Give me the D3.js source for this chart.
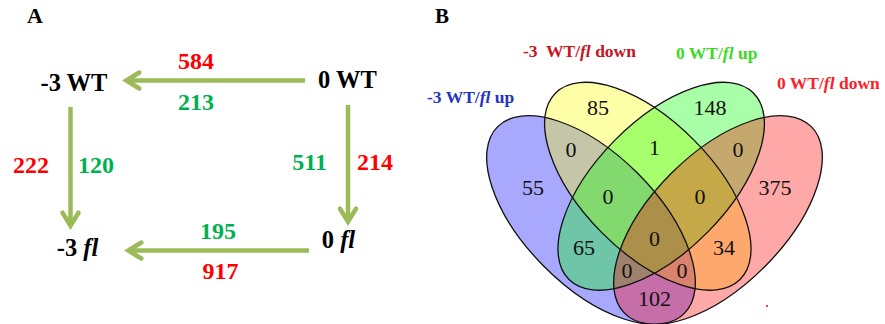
<!DOCTYPE html>
<html>
<head>
<meta charset="utf-8">
<script src="https://cdn.jsdelivr.net/npm/d3@7"></script>
<style>
  body { margin: 0; background: #fff; }
  svg { display: block; font-family: 'Liberation Serif', 'Times New Roman', serif; }
</style>
</head>
<body>
<svg id="chart" width="885" height="324"></svg>
<script>
// panel A: gene counts between samples
var nodeNames = ['-3 WT', '0 WT', '-3 fl', '0 fl']
var edgeFrom = ['0 WT', '-3 WT', '0 WT', '0 fl']
var edgeTo = ['-3 WT', '-3 fl', '0 fl', '-3 fl']
var redCounts = [584, 222, 214, 917]
var greenCounts = [213, 120, 511, 195]

// panel B: four set venn
var setNames = ['-3 WT/fl up', '-3  WT/fl down', '0 WT/fl up', '0 WT/fl down']
var regionSets = ['A', 'B', 'C', 'D', 'AB', 'AC', 'AD', 'BC', 'BD', 'CD', 'ABC', 'ABD', 'ACD', 'BCD', 'ABCD']
var regionCounts = [55, 85, 148, 375, 0, 65, 102, 1, 34, 0, 0, 0, 0, 0, 0]

// layout, panel A
var nodeXY = { '-3 WT': [74, 91], '0 WT': [347.5, 88], '-3 fl': [77.5, 256], '0 fl': [338.5, 248] }
var arrowXY = [[305, 80.5, 122, 80.5], [70.5, 107, 70.5, 230], [348, 105, 348, 226], [309, 250.5, 124, 250.5]]
var redXY = [[196, 69, 'middle'], [49, 173, 'end'], [357, 170, 'start'], [220.5, 279, 'middle']]
var greenXY = [[196, 110, 'middle'], [78, 173, 'start'], [327, 170, 'end'], [218, 239, 'middle']]

// layout, panel B (right hand ellipses, the left ones are mirrored)
var axisX = 654.5
var outerEllipse = { cx: 718, cy: 220, rx: 132, ry: 66, angle: -45 }
var innerEllipse = { cx: 661.2, cy: 186.25, rx: 65.32, ry: 131.14, angle: 44.66 }
var setColors = ['#0000ff', '#ffff00', '#00ff00', '#ff0000']
var setTextColors = ['#1f35c2', '#c8141e', '#3cd925', '#fc1e2a']
var setTextXY = [[427, 103], [523, 57], [676, 59], [777, 89]]
var regionXY = [[533, 187], [598, 107], [710, 107], [775, 187], [571, 149], [584, 247], [654.5, 298],
  [654.5, 147], [724, 247], [738, 149], [608, 196], [682, 270], [627, 270], [700, 196], [654.5, 238]]

var svg = d3.select('#chart')

drawPanelA(svg.append('g'))
drawPanelB(svg.append('g'))

function richText(sel, str) {
  var parts = str.split('fl')
  parts.forEach(function(p, i) {
    if(p) sel.append('tspan').text(p)
    if(i < parts.length - 1) sel.append('tspan').attr('font-style', 'italic').text('fl')
  })
  return sel
}

function drawPanelA(g) {
  var arrowColor = '#9bbb59'

  g.append('text')
    .attr('x', 27).attr('y', 23)
    .attr('font-size', 22).attr('font-weight', 'bold')
    .text('A')

  nodeNames.forEach(function(name) {
    richText(g.append('text')
      .attr('x', nodeXY[name][0]).attr('y', nodeXY[name][1])
      .attr('text-anchor', 'middle')
      .attr('font-size', 24.5).attr('font-weight', 'bold'), name)
  })

  arrowXY.forEach(function(a) {
    var dx = a[2] - a[0]
      , dy = a[3] - a[1]
      , len = Math.hypot(dx, dy)
      , ux = dx / len
      , uy = dy / len
      , px = -uy
      , py = ux
      , tx = a[2] - ux * 4.3
      , ty = a[3] - uy * 4.3

    g.append('line')
      .attr('x1', a[0]).attr('y1', a[1])
      .attr('x2', tx - ux * 2).attr('y2', ty - uy * 2)
      .attr('stroke', arrowColor).attr('stroke-width', 4.5)

    g.append('path')
      .attr('d', d3.line()([
          [tx - ux * 13 + px * 8, ty - uy * 13 + py * 8]
        , [tx, ty]
        , [tx - ux * 13 - px * 8, ty - uy * 13 - py * 8]
      ]))
      .attr('fill', 'none')
      .attr('stroke', arrowColor).attr('stroke-width', 4.5)
      .attr('stroke-linejoin', 'miter').attr('stroke-linecap', 'round')
  })

  edgeFrom.forEach(function(from, i) {
    g.append('text')
      .attr('x', redXY[i][0]).attr('y', redXY[i][1])
      .attr('text-anchor', redXY[i][2])
      .attr('font-size', 24).attr('font-weight', 'bold')
      .attr('fill', '#ff0000')
      .text(redCounts[i])

    g.append('text')
      .attr('x', greenXY[i][0]).attr('y', greenXY[i][1])
      .attr('text-anchor', greenXY[i][2])
      .attr('font-size', 24).attr('font-weight', 'bold')
      .attr('fill', '#00b050')
      .text(greenCounts[i])
  })
}

function drawPanelB(g) {
  var ellipses = [mirror(outerEllipse), mirror(innerEllipse), innerEllipse, outerEllipse]

  g.append('text')
    .attr('x', 435).attr('y', 23)
    .attr('font-size', 21).attr('font-weight', 'bold')
    .text('B')

  g.selectAll('.fill')
    .data(ellipses)
    .enter()
      .append('ellipse')
      .attr('class', 'fill')
      .call(ellipseAttributes)
      .attr('fill', function(e, i) { return setColors[i] })
      .attr('fill-opacity', 0.34)

  g.selectAll('.edge')
    .data(ellipses)
    .enter()
      .append('ellipse')
      .attr('class', 'edge')
      .call(ellipseAttributes)
      .attr('fill', 'none')
      .attr('stroke', '#111').attr('stroke-width', 1.3)

  g.selectAll('.count')
    .data(regionSets)
    .enter()
      .append('text')
      .attr('class', 'count')
      .attr('x', function(d, i) { return regionXY[i][0] })
      .attr('y', function(d, i) { return regionXY[i][1] + 7.5 })
      .attr('text-anchor', 'middle')
      .attr('font-size', 22)
      .attr('fill', '#111')
      .text(function(d, i) { return regionCounts[i] })

  setNames.forEach(function(name, i) {
    richText(g.append('text')
      .attr('x', setTextXY[i][0]).attr('y', setTextXY[i][1])
      .attr('font-size', 17.5).attr('font-weight', 'bold')
      .attr('fill', setTextColors[i])
      .style('white-space', 'pre'), name)
  })

  g.append('circle').attr('cx', 767).attr('cy', 306).attr('r', 1).attr('fill', '#ff0000')
}

function ellipseAttributes(sel) {
  sel
    .attr('cx', function(e) { return e.cx })
    .attr('cy', function(e) { return e.cy })
    .attr('rx', function(e) { return e.rx })
    .attr('ry', function(e) { return e.ry })
    .attr('transform', function(e) { return 'rotate(' + e.angle + ',' + e.cx + ',' + e.cy + ')' })
}

function mirror(e) {
  return { cx: 2 * axisX - e.cx, cy: e.cy, rx: e.rx, ry: e.ry, angle: -e.angle }
}
</script>
</body>
</html>
